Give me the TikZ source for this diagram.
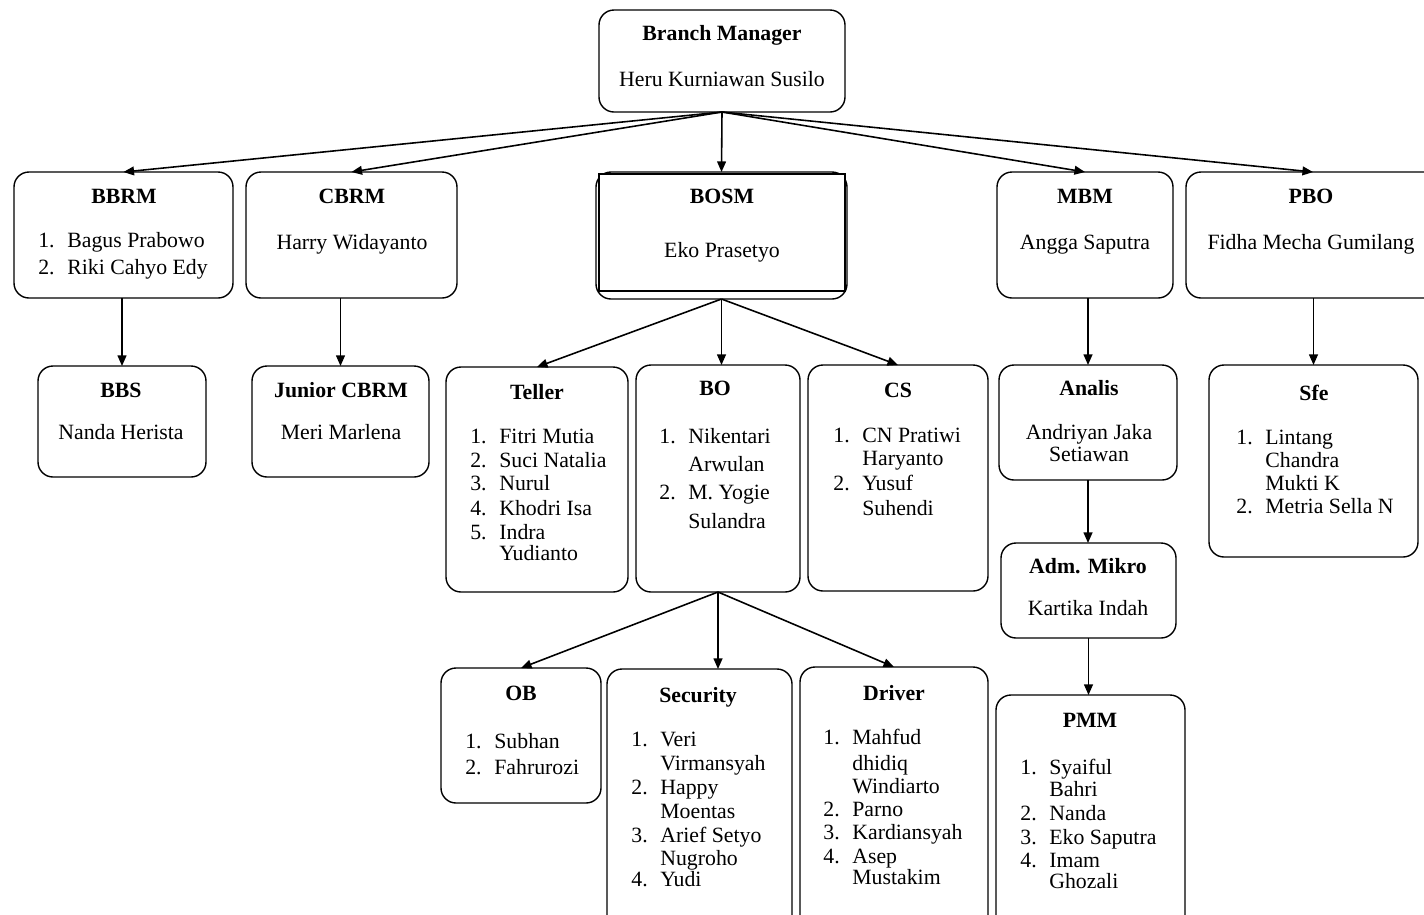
\documentclass[tikz,border=0pt]{standalone}
\usepackage{fontspec}
\setmainfont{Liberation Serif}
\usetikzlibrary{arrows.meta}
\tikzstyle{orgChart} = [x = 0.02cm, y = -0.02cm]
\tikzstyle{boxStyle} = [draw=black, line width=0.8pt, rounded corners = 0.3cm, fill=white, inner sep=0pt, outer sep=0pt]
\tikzstyle{frameStyle} = [draw=black, line width=1.1pt, fill=white, inner sep=0pt, outer sep=0pt]
\tikzstyle{linkStyle} = [line width=0.9pt, -{Triangle[length=6pt, width=5pt]}]
\tikzstyle{titleText} = [font=\fontsize{12.4}{14}\selectfont\bfseries, inner sep=0pt, anchor=mid, yshift=-1.6pt]
\tikzstyle{nameText} = [font=\fontsize{12.4}{14}\selectfont, inner sep=0pt, anchor=mid, yshift=-1.6pt]
\tikzstyle{listText} = [nameText, anchor=mid west]
\newcommand{\orgBox}[6]{
  \pgfmathsetmacro{\boxWidth}{(#4 - #2) * 0.02}
  \pgfmathsetmacro{\boxHeight}{(#5 - #3) * 0.02}
  \node [#6, minimum width = \boxWidth cm, minimum height = \boxHeight cm] (#1) at ({(#2 + #4) / 2}, {(#3 + #5) / 2}) {};
}
\newcommand{\listNum}[5]{
  \node [listText] (#1Num) at (#2, #3) {#4};
  \node [listText] (#1) at (#2 + 29, #3) {#5};
}
\newcommand{\listCont}[4]{\node [listText] (#1) at (#2 + 29, #3) {#4};}
\begin{document}
\begin{tikzpicture}[orgChart]
  \useasboundingbox (0,0) rectangle (1424,914);
  \fill [white] (0,0) rectangle (1424,914);
  \clip (0,0) rectangle (1424,914);

  % boxes
  \orgBox{bm}{599}{10}{845}{112}{boxStyle}
  \orgBox{bbrm}{14}{172}{233}{298}{boxStyle}
  \orgBox{cbrm}{246}{172}{457}{298}{boxStyle}
  \orgBox{bosm}{596}{172}{847}{299}{boxStyle}
  \orgBox{bosmFrame}{599}{174}{845}{291}{frameStyle}
  \orgBox{mbm}{997}{172}{1173}{298}{boxStyle}
  \orgBox{pbo}{1186}{172}{1440}{298}{boxStyle}
  \orgBox{bbs}{38}{366}{206}{477}{boxStyle}
  \orgBox{jcbrm}{252}{366}{429}{477}{boxStyle}
  \orgBox{teller}{446}{367}{628}{592}{boxStyle}
  \orgBox{bo}{636}{365}{800}{592}{boxStyle}
  \orgBox{cs}{808}{365}{988}{591}{boxStyle}
  \orgBox{analis}{999}{365}{1177}{480}{boxStyle}
  \orgBox{admMikro}{1001}{543}{1176}{638}{boxStyle}
  \orgBox{sfe}{1209}{365}{1418}{557}{boxStyle}
  \orgBox{ob}{441}{668}{601}{803}{boxStyle}
  \orgBox{security}{607}{669}{792}{940}{boxStyle}
  \orgBox{driver}{800}{667}{988}{940}{boxStyle}
  \orgBox{pmm}{996}{695}{1185}{940}{boxStyle}

  % connectors
  \draw [linkStyle] (bm.south) -- (bbrm.north);
  \draw [linkStyle] (bm.south) -- (cbrm.north);
  \draw [linkStyle] (bm.south) -- (bosm.north);
  \draw [linkStyle] (bm.south) -- (mbm.north);
  \draw [linkStyle] (bm.south) -- (pbo.north);
  \draw [linkStyle] (bbs.north |- bbrm.south) -- (bbs.north);
  \draw [linkStyle] (jcbrm.north |- cbrm.south) -- (jcbrm.north);
  \draw [linkStyle] (bosm.south) -- (teller.north);
  \draw [linkStyle] (bosm.south) -- (bosm.south |- bo.north);
  \draw [linkStyle] (bosm.south) -- (cs.north);
  \draw [linkStyle] (bo.south) -- (ob.north);
  \draw [linkStyle] (bo.south) -- (bo.south |- security.north);
  \draw [linkStyle] (bo.south) -- (driver.north);
  \draw [linkStyle] (analis.north |- mbm.south) -- (analis.north);
  \draw [linkStyle] (analis.south) -- (analis.south |- admMikro.north);
  \draw [linkStyle] (admMikro.south) -- (admMikro.south |- pmm.north);
  \draw [linkStyle] (sfe.north |- pbo.south) -- (sfe.north);

  % texts
  \node [titleText] (bmTitle) at (722,34) {Branch Manager};
  \node [nameText] (bmName) at (722,80) {Heru Kurniawan Susilo};

  \node [titleText] (bbrmTitle) at (124,197) {BBRM};
  \listNum{bbrmA}{38}{241}{1.}{Bagus Prabowo}
  \listNum{bbrmB}{38}{268}{2.}{Riki Cahyo Edy}

  \node [titleText] (cbrmTitle) at (352,197) {CBRM};
  \node [nameText] (cbrmName) at (352,243) {Harry Widayanto};

  \node [titleText] (bosmTitle) at (722,197) {BOSM};
  \node [nameText] (bosmName) at (722,251) {Eko Prasetyo};

  \node [titleText] (mbmTitle) at (1085,197) {MBM};
  \node [nameText] (mbmName) at (1085,243) {Angga Saputra};

  \node [titleText] (pboTitle) at (1311,197) {PBO};
  \node [nameText] (pboName) at (1311,243) {Fidha Mecha Gumilang};

  \node [titleText] (bbsTitle) at (121,391) {BBS};
  \node [nameText] (bbsName) at (121,433) {Nanda Herista};

  \node [titleText] (jcbrmTitle) at (341,391) {Junior CBRM};
  \node [nameText] (jcbrmName) at (341,433) {Meri Marlena};

  \node [titleText] (tellerTitle) at (537,393) {Teller};
  \listNum{tellerA}{470}{437}{1.}{Fitri Mutia}
  \listNum{tellerB}{470}{461}{2.}{Suci Natalia}
  \listNum{tellerC}{470}{484}{3.}{Nurul}
  \listNum{tellerD}{470}{509}{4.}{Khodri Isa}
  \listNum{tellerE}{470}{533}{5.}{Indra}
  \listCont{tellerF}{470}{554}{Yudianto}

  \node [titleText] (boTitle) at (715,389) {BO};
  \listNum{boA}{659}{437}{1.}{Nikentari}
  \listCont{boB}{659}{465}{Arwulan}
  \listNum{boC}{659}{493}{2.}{M. Yogie}
  \listCont{boD}{659}{522}{Sulandra}

  \node [titleText] (csTitle) at (898,391) {CS};
  \listNum{csA}{833}{436}{1.}{CN Pratiwi}
  \listCont{csB}{833}{459}{Haryanto}
  \listNum{csC}{833}{484}{2.}{Yusuf}
  \listCont{csD}{833}{509}{Suhendi}

  \node [titleText] (analisTitle) at (1089,389) {Analis};
  \node [nameText] (analisNameA) at (1089,433) {Andriyan Jaka};
  \node [nameText] (analisNameB) at (1089,455) {Setiawan};

  \node [titleText] (admMikroTitle) at (1088,567) {Adm. Mikro};
  \node [nameText] (admMikroName) at (1088,609) {Kartika Indah};

  \node [titleText] (sfeTitle) at (1314,394) {Sfe};
  \listNum{sfeA}{1236}{438}{1.}{Lintang}
  \listCont{sfeB}{1236}{461}{Chandra}
  \listCont{sfeC}{1236}{484}{Mukti K}
  \listNum{sfeD}{1236}{507}{2.}{Metria Sella N}

  \node [titleText] (obTitle) at (521,694) {OB};
  \listNum{obA}{465}{742}{1.}{Subhan}
  \listNum{obB}{465}{768}{2.}{Fahrurozi}

  \node [titleText] (securityTitle) at (698,696) {Security};
  \listNum{securityA}{631}{740}{1.}{Veri}
  \listCont{securityB}{631}{764}{Virmansyah}
  \listNum{securityC}{631}{788}{2.}{Happy}
  \listCont{securityD}{631}{812}{Moentas}
  \listNum{securityE}{631}{836}{3.}{Arief Setyo}
  \listCont{securityF}{631}{859}{Nugroho}
  \listNum{securityG}{631}{880}{4.}{Yudi}

  \node [titleText] (driverTitle) at (894,694) {Driver};
  \listNum{driverA}{823}{738}{1.}{Mahfud}
  \listCont{driverB}{823}{764}{dhidiq}
  \listCont{driverC}{823}{787}{Windiarto}
  \listNum{driverD}{823}{810}{2.}{Parno}
  \listNum{driverE}{823}{833}{3.}{Kardiansyah}
  \listNum{driverF}{823}{857}{4.}{Asep}
  \listCont{driverG}{823}{878}{Mustakim}

  \node [titleText] (pmmTitle) at (1090,721) {PMM};
  \listNum{pmmA}{1020}{768}{1.}{Syaiful}
  \listCont{pmmB}{1020}{790}{Bahri}
  \listNum{pmmC}{1020}{814}{2.}{Nanda}
  \listNum{pmmD}{1020}{838}{3.}{Eko Saputra}
  \listNum{pmmE}{1020}{861}{4.}{Imam}
  \listCont{pmmF}{1020}{882}{Ghozali}
\end{tikzpicture}
\end{document}
